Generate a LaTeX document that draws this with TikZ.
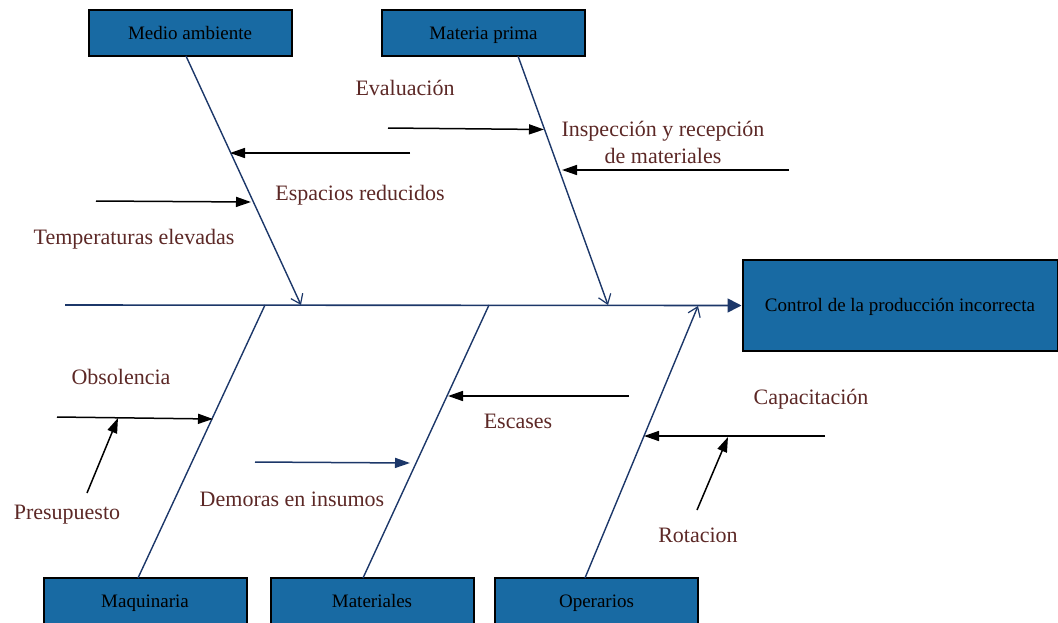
\documentclass[tikz,border=0pt]{standalone}
\usepackage{fontspec}
\setmainfont{Liberation Serif}
\usetikzlibrary{arrows.meta}
\definecolor{boxfill}{RGB}{24,106,163}
\definecolor{bone}{RGB}{28,55,105}
\definecolor{labeltext}{RGB}{92,40,38}
\tikzset{
  causebox/.style={draw=black, line width=2pt, fill=boxfill, inner sep=0pt,
    minimum width=203pt, minimum height=46pt, text height=15pt, text depth=3pt,
    font=\fontsize{19}{22}\selectfont},
  effectbox/.style={causebox, minimum width=315pt, minimum height=91pt},
  boneline/.style={draw=bone, line width=1.4pt},
  bonearrow/.style={boneline, -{Straight Barb[length=9pt,width=13pt,line width=1.2pt]}},
  spineline/.style={draw=bone, line width=1.6pt, -{Triangle[length=14pt,width=14pt]}},
  subarrow/.style={draw=black, line width=1.5pt, -{Triangle[length=15pt,width=10pt]}},
  subarrowblue/.style={subarrow, draw=bone, fill=bone},
  causetext/.style={text=labeltext, inner sep=0pt, yshift=-2pt,
    font=\fontsize{22}{27}\selectfont, align=center}
}
\begin{document}
\begin{tikzpicture}[x=1pt,y=-1pt]
\useasboundingbox (0,0) rectangle (1058,622);
\clip (0,0) rectangle (1058,622);

% category boxes and the effect
\node[causebox] (medio) at (190,33) {Medio ambiente};
\node[causebox] (materia) at (483.5,33) {Materia prima};
\node[causebox] (maquinaria) at (145,601) {Maquinaria};
\node[causebox] (materiales) at (372,601) {Materiales};
\node[causebox] (operarios) at (596.5,601) {Operarios};
\node[effectbox] (efecto) at (900,305.5) {Control de la producción incorrecta};

% spine
\coordinate (spinestart) at (65,305);
\draw[spineline] (spinestart) -- (efecto.west);

% bones
\coordinate (maTop) at (186,56);
\coordinate (maEnd) at (301,305);
\coordinate (mpTop) at (518,56);
\coordinate (mpEnd) at (608,305);
\coordinate (mqBot) at (138,578);
\coordinate (mqEnd) at (265,305);
\coordinate (mtBot) at (363,578);
\coordinate (mtEnd) at (489,305);
\coordinate (opBot) at (585,578);
\coordinate (opEnd) at (698,306);
\draw[bonearrow] (maTop) -- (maEnd);
\draw[bonearrow] (mpTop) -- (mpEnd);
\draw[boneline] (mqBot) -- (mqEnd);
\draw[boneline] (mtBot) -- (mtEnd);
\draw[bonearrow] (opBot) -- (opEnd);

% sub-causes: Medio ambiente
\coordinate (espA) at (410,153);
\coordinate (espB) at (230,153);
\coordinate (temA) at (96,201);
\coordinate (temB) at (251,202);
\draw[subarrow] (espA) -- (espB);
\draw[subarrow] (temA) -- (temB);
\node[causetext] (espacios) at (360,193) {Espacios reducidos};
\node[causetext] (temperaturas) at (134,237) {Temperaturas elevadas};

% sub-causes: Materia prima
\coordinate (evaA) at (388,128);
\coordinate (evaB) at (544,129.5);
\coordinate (insA) at (789,170);
\coordinate (insB) at (562,170);
\draw[subarrow] (evaA) -- (evaB);
\draw[subarrow] (insA) -- (insB);
\node[causetext] (evaluacion) at (405,86) {Evaluación};
\node[causetext] (inspeccion) at (663,140) {Inspección y recepción\\de materiales};

% sub-causes: Maquinaria
\coordinate (obsA) at (57,417);
\coordinate (obsB) at (213,419);
\coordinate (preA) at (87,493);
\coordinate (preB) at (118,418);
\draw[subarrow] (obsA) -- (obsB);
\draw[subarrow] (preA) -- (preB);
\node[causetext] (obsolencia) at (121,375) {Obsolencia};
\node[causetext] (presupuesto) at (67,513) {Presupuesto};

% sub-causes: Materiales
\coordinate (demA) at (255,462);
\coordinate (demB) at (410,463);
\coordinate (escA) at (629,396);
\coordinate (escB) at (448,396);
\draw[subarrowblue] (demA) -- (demB);
\draw[subarrow] (escA) -- (escB);
\node[causetext] (demoras) at (292,497) {Demoras en insumos};
\node[causetext] (escases) at (518,419) {Escases};

% sub-causes: Operarios
\coordinate (capA) at (825,436);
\coordinate (capB) at (644,436);
\coordinate (rotA) at (697,510);
\coordinate (rotB) at (728,437);
\draw[subarrow] (capA) -- (capB);
\draw[subarrow] (rotA) -- (rotB);
\node[causetext] (capacitacion) at (811,397) {Capacitación};
\node[causetext] (rotacion) at (698,533) {Rotacion};
\end{tikzpicture}
\end{document}
